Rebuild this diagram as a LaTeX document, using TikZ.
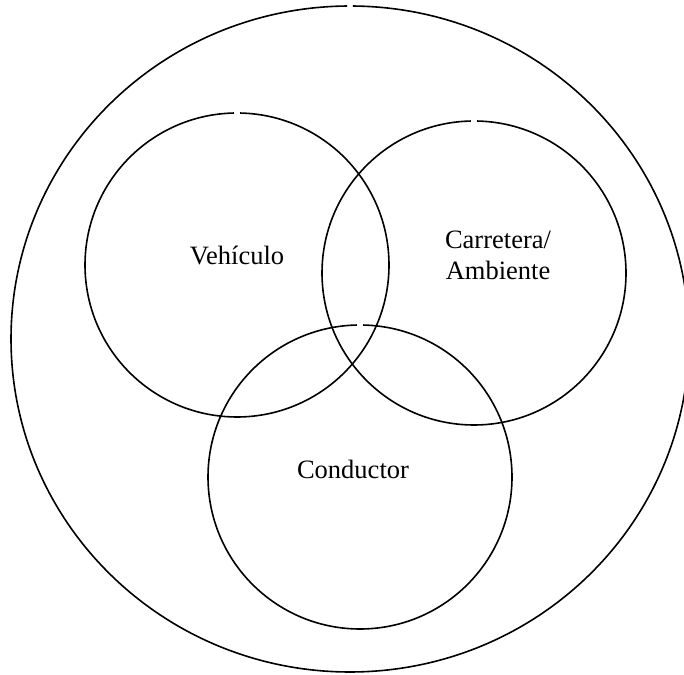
\documentclass[tikz,border=0pt]{standalone}
\usepackage{fontspec}
\setmainfont{Liberation Serif}
\begin{document}
\begin{tikzpicture}[x=1pt,y=1pt,
  ring/.style={line width=1.6pt, black},
  lbl/.style={font=\fontsize{26.5}{31}\selectfont, align=center, inner sep=0pt}]
  \useasboundingbox (0,0) rectangle (684,674);
  \clip (0,0) rectangle (684,674);
  % centres of the outer system ring and the three factor circles
  \coordinate (sys) at (350,335);
  \coordinate (veh) at (237,409);
  \coordinate (car) at (474,401);
  \coordinate (con) at (360,197);
  % outer ring, drawn open with a small gap at the top
  \draw[ring] ([shift={(90.5:339 and 333)}]sys) arc[start angle=90.5, end angle=449.5, x radius=339, y radius=333];
  % factor circles, each with a small gap at the top
  \foreach \c in {veh,car,con}
    \draw[ring] ([shift={(91.2:152)}]\c) arc[start angle=91.2, end angle=448.8, radius=152];
  % labels
  \node[lbl] (tveh) at (237,419) {Vehículo};
  \node[lbl] (tcar) at (498,419) {Carretera/\\Ambiente};
  \node[lbl] (tcon) at (353,205) {Conductor};
\end{tikzpicture}
\end{document}
